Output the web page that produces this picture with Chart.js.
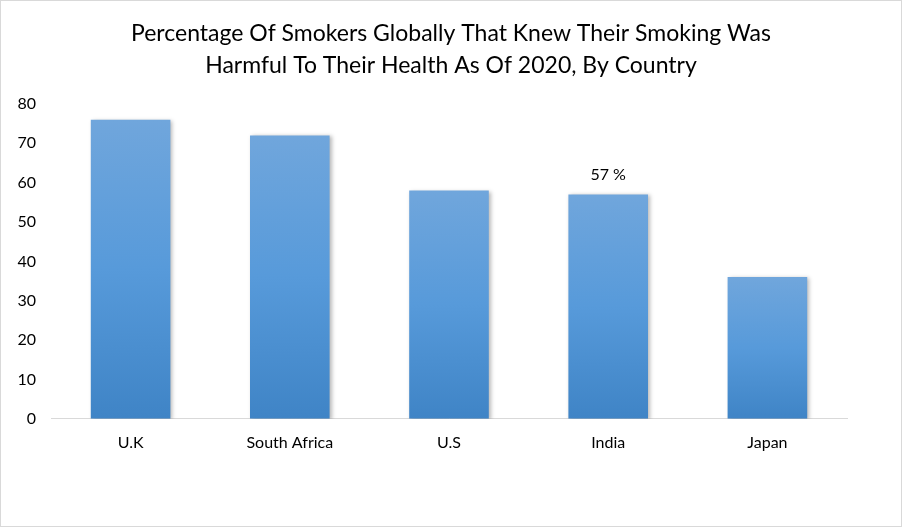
<!DOCTYPE html>
<html>
<head>
<meta charset="utf-8">
<script src="https://cdn.jsdelivr.net/npm/chart.js@4.4.1/dist/chart.umd.min.js"></script>
<style>
  html, body { margin: 0; padding: 0; background: #fff; }
  #wrap { width: 900px; height: 525px; border: 1px solid #d9d9d9; position: relative; }
  canvas { display: block; }
</style>
</head>
<body>
<div id="wrap"><canvas id="c" width="900" height="525"></canvas></div>
<script>
const categories = ["U.K", "South Africa", "U.S", "India", "Japan"];
const percentages = [76, 72, 58, 57, 36];
const labelledIndex = [3];
const yTicks = [0, 10, 20, 30, 40, 50, 60, 70, 80];
const titleLines = ["Percentage Of Smokers Globally That Knew Their Smoking Was", "Harmful To Their Health As Of 2020, By Country"];

const FONT = "Lato, 'Open Sans', sans-serif";

function barGradient(ctx) {
  const chart = ctx.chart;
  if (!chart.chartArea || ctx.type !== 'data') return '#5b9bd5';
  const ys = chart.scales.y;
  const top = ys.getPixelForValue(ctx.raw);
  const bottom = ys.getPixelForValue(0);
  if (!isFinite(top) || !isFinite(bottom) || top === bottom) return '#5b9bd5';
  const g = chart.ctx.createLinearGradient(0, top, 0, bottom);
  g.addColorStop(0, '#70a6dc');
  g.addColorStop(0.5, '#579ada');
  g.addColorStop(1, '#3f84c6');
  return g;
}

const shadowPlugin = {
  id: 'barShadow',
  beforeDatasetsDraw(chart) {
    const c = chart.ctx;
    c.save();
    c.shadowColor = 'rgba(0,0,0,0.28)';
    c.shadowBlur = 4;
    c.shadowOffsetX = 2;
    c.shadowOffsetY = 1;
  },
  afterDatasetsDraw(chart) {
    chart.ctx.restore();
  }
};

const labelPlugin = {
  id: 'pctLabel',
  afterDatasetsDraw(chart) {
    const meta = chart.getDatasetMeta(0);
    const c = chart.ctx;
    c.save();
    c.font = "16px " + FONT;
    c.fillStyle = '#000';
    c.textAlign = 'center';
    c.textBaseline = 'middle';
    labelledIndex.forEach(i => {
      const el = meta.data[i];
      c.fillText(percentages[i] + ' %', el.x, el.y - 20);
    });
    c.restore();
  }
};

new Chart(document.getElementById('c'), {
  type: 'bar',
  data: {
    labels: categories,
    datasets: [{
      data: percentages,
      backgroundColor: barGradient,
      borderWidth: 0,
      categoryPercentage: 1.0,
      barPercentage: 0.5
    }]
  },
  options: {
    responsive: false,
    animation: false,
    events: [],
    layout: { padding: { left: 0, right: 0, top: 0, bottom: 60 } },
    plugins: {
      legend: { display: false },
      tooltip: { enabled: false },
      title: {
        display: true,
        text: titleLines,
        color: '#000',
        font: { family: FONT, size: 23, weight: 'normal', lineHeight: 1.39 },
        padding: { top: 17, bottom: 22 }
      }
    },
    scales: {
      x: {
        grid: { display: false, drawTicks: false },
        border: { display: true, color: '#d9d9d9', width: 1 },
        ticks: { color: '#000', font: { family: FONT, size: 16 }, padding: 14 }
      },
      y: {
        min: 0, max: 80,
        afterFit(s) { s.width = 50; },
        afterBuildTicks(s) { s.ticks = yTicks.map(v => ({ value: v })); },
        grid: { display: false, drawTicks: false },
        border: { display: false },
        ticks: { color: '#000', font: { family: FONT, size: 16 }, padding: 15 }
      },
      yR: {
        type: 'linear',
        position: 'right',
        min: 0, max: 1,
        afterFit(s) { s.width = 54; },
        grid: { display: false, drawTicks: false },
        border: { display: false },
        ticks: { display: false }
      }
    }
  },
  plugins: [shadowPlugin, labelPlugin]
});
</script>
</body>
</html>
